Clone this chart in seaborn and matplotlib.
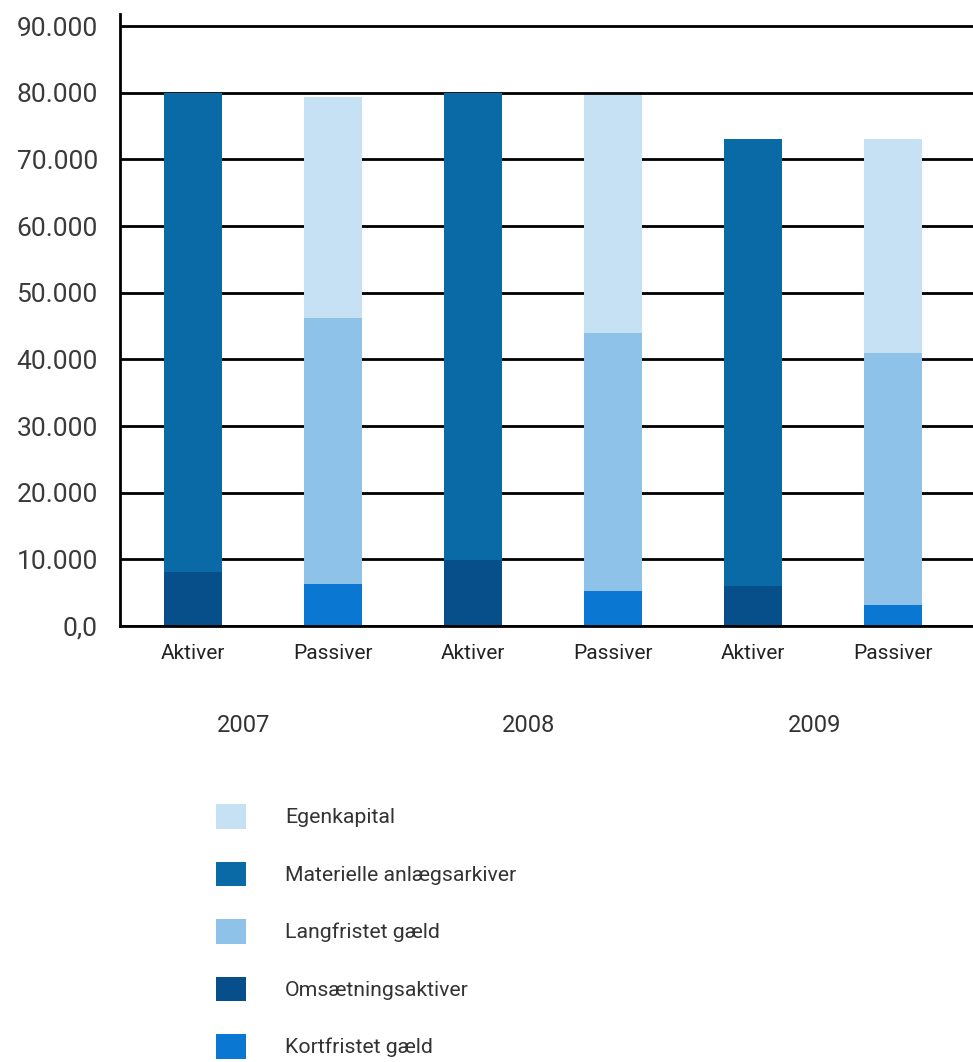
# Balance chart: Aktiver / Passiver 2007-2009 (stacked bars)
import numpy as np
import pandas as pd
import matplotlib
matplotlib.use("Agg")
import matplotlib.pyplot as plt
import matplotlib.transforms as mtransforms
from matplotlib.patches import Patch
import seaborn as sns

# =========================
# Data
# =========================
years = ["2007", "2008", "2009"]
sides = ["Aktiver", "Passiver"]

# Aktiver
omsaetningsaktiver = [8100, 9900, 6000]
materielle_anlaeg = [71900, 70100, 67000]

# Passiver
kortfristet_gaeld = [6300, 5300, 3100]
langfristet_gaeld = [39900, 38700, 37800]
egenkapital = [33200, 35700, 32100]

y_ticks = [0, 10000, 20000, 30000, 40000, 50000, 60000, 70000, 80000, 90000]
y_tick_labels = ["0,0", "10.000", "20.000", "30.000", "40.000", "50.000",
                 "60.000", "70.000", "80.000", "90.000"]

colors = {
    "Egenkapital": "#c6e1f3",
    "Materielle anlægsarkiver": "#0a6aa6",
    "Langfristet gæld": "#8fc2e8",
    "Omsætningsaktiver": "#064f8a",
    "Kortfristet gæld": "#0a78d2",
}

# =========================
# Build table (cumulative tops, drawn back to front)
# =========================
rows = []
for i, yr in enumerate(years):
    rows.append({"key": yr + " Aktiver", "side": "Aktiver",
                 "layer1": omsaetningsaktiver[i] + materielle_anlaeg[i],
                 "layer2": np.nan,
                 "layer3": omsaetningsaktiver[i]})
    rows.append({"key": yr + " Passiver", "side": "Passiver",
                 "layer1": kortfristet_gaeld[i] + langfristet_gaeld[i] + egenkapital[i],
                 "layer2": kortfristet_gaeld[i] + langfristet_gaeld[i],
                 "layer3": kortfristet_gaeld[i]})
df = pd.DataFrame(rows)
order = list(df["key"])

akt = df["side"] == "Aktiver"
pas = df["side"] == "Passiver"

# =========================
# Plot
# =========================
sns.set_style("white")
plt.rcParams["font.family"] = ["Roboto", "DejaVu Sans"]

fig = plt.figure(figsize=(9.73, 10.62), dpi=100)
ax = fig.add_axes([120 / 973, 1 - 626 / 1062, 1 - 120 / 973, 612 / 1062])

bw = 0.41
bar_kw = dict(order=order, width=bw, saturation=1, linewidth=0, edgecolor="none", ax=ax)
sns.barplot(data=df[akt], x="key", y="layer1", color=colors["Materielle anlægsarkiver"], **bar_kw)
sns.barplot(data=df[pas], x="key", y="layer1", color=colors["Egenkapital"], **bar_kw)
sns.barplot(data=df[pas], x="key", y="layer2", color=colors["Langfristet gæld"], **bar_kw)
sns.barplot(data=df[akt], x="key", y="layer3", color=colors["Omsætningsaktiver"], **bar_kw)
sns.barplot(data=df[pas], x="key", y="layer3", color=colors["Kortfristet gæld"], **bar_kw)

ax.set_xlim(-0.52, 5.57)
ax.set_ylim(0, 91800)
ax.set_yticks(y_ticks)
ax.set_yticklabels(y_tick_labels, fontsize=19, color="#3a3a3a")
ax.set_xticks(range(len(order)))
ax.set_xticklabels([k.split(" ")[1] for k in order], fontsize=15, color="#222222")
ax.set_xlabel("")
ax.set_ylabel("")

ax.set_axisbelow(True)
ax.yaxis.grid(True, color="black", linewidth=2)
ax.tick_params(axis="y", length=8, width=2, color="black", pad=8)
ax.tick_params(axis="x", length=0, pad=13)

for s in ["top", "right"]:
    ax.spines[s].set_visible(False)
for s in ["left", "bottom"]:
    ax.spines[s].set_color("black")
    ax.spines[s].set_linewidth(2)

# Year labels under each pair
trans = mtransforms.blended_transform_factory(ax.transData, ax.transAxes)
year_x = [0.36, 2.40, 4.44]
for xpos, yr in zip(year_x, years):
    ax.text(xpos, -0.162, yr, transform=trans, ha="center", va="center",
            fontsize=17, color="#333333")

# Legend
legend_order = ["Egenkapital", "Materielle anlægsarkiver", "Langfristet gæld",
                "Omsætningsaktiver", "Kortfristet gæld"]
handles = [Patch(facecolor=colors[n], edgecolor="none", label=n) for n in legend_order]
fig.legend(handles=handles, loc="upper left", bbox_to_anchor=(197 / 973, 1 - 785 / 1062),
           frameon=False, prop={"size": 15.3}, handlelength=1.4,
           handleheight=1.4, labelspacing=1.55, handletextpad=1.85, labelcolor="#333333")

fig.savefig("out.png", dpi=100)
